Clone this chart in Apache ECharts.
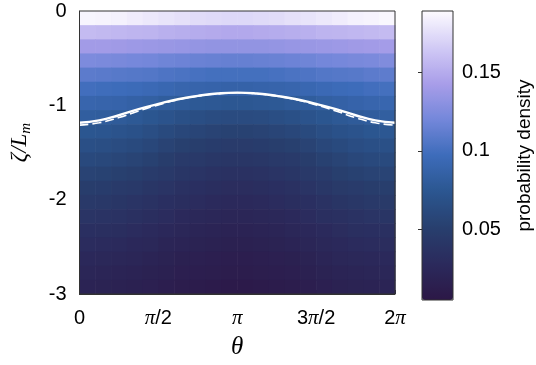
<!DOCTYPE html>
<html>
<head>
<meta charset="utf-8">
<script src="https://cdn.jsdelivr.net/npm/echarts@6/dist/echarts.min.js"></script>
<style>
  html, body { margin: 0; padding: 0; background: #fff; }
  #chart { width: 536px; height: 365px; }
</style>
</head>
<body>
<div id="chart"></div>
<script>
// probability density, rows from zeta = 0 (top) down to zeta = -3, 20 columns over theta in [0, 2pi]
const density = [
  [0.186, 0.185, 0.184, 0.182, 0.180, 0.178, 0.176, 0.174, 0.173, 0.172, 0.172, 0.173, 0.174, 0.176, 0.178, 0.180, 0.182, 0.184, 0.185, 0.187],
  [0.158, 0.157, 0.156, 0.155, 0.154, 0.152, 0.151, 0.150, 0.149, 0.148, 0.148, 0.149, 0.150, 0.151, 0.152, 0.154, 0.155, 0.156, 0.157, 0.158],
  [0.140, 0.140, 0.139, 0.138, 0.137, 0.136, 0.135, 0.134, 0.133, 0.133, 0.133, 0.133, 0.134, 0.135, 0.136, 0.137, 0.138, 0.139, 0.140, 0.141],
  [0.124, 0.123, 0.122, 0.121, 0.120, 0.118, 0.117, 0.116, 0.115, 0.114, 0.114, 0.115, 0.116, 0.117, 0.118, 0.120, 0.121, 0.122, 0.123, 0.125],
  [0.110, 0.109, 0.108, 0.107, 0.106, 0.104, 0.103, 0.101, 0.100, 0.100, 0.100, 0.100, 0.101, 0.103, 0.104, 0.106, 0.107, 0.108, 0.110, 0.111],
  [0.099, 0.098, 0.097, 0.096, 0.094, 0.092, 0.090, 0.089, 0.088, 0.087, 0.087, 0.088, 0.089, 0.090, 0.092, 0.094, 0.096, 0.097, 0.099, 0.100],
  [0.090, 0.089, 0.088, 0.086, 0.084, 0.081, 0.079, 0.077, 0.076, 0.075, 0.075, 0.076, 0.077, 0.079, 0.081, 0.084, 0.086, 0.088, 0.090, 0.091],
  [0.082, 0.081, 0.079, 0.077, 0.074, 0.071, 0.068, 0.066, 0.064, 0.063, 0.063, 0.064, 0.066, 0.068, 0.071, 0.074, 0.077, 0.079, 0.081, 0.083],
  [0.074, 0.073, 0.071, 0.069, 0.066, 0.062, 0.059, 0.057, 0.055, 0.054, 0.054, 0.055, 0.057, 0.059, 0.062, 0.066, 0.069, 0.071, 0.074, 0.075],
  [0.067, 0.066, 0.064, 0.062, 0.059, 0.055, 0.052, 0.050, 0.048, 0.047, 0.047, 0.048, 0.050, 0.052, 0.055, 0.059, 0.062, 0.065, 0.067, 0.068],
  [0.061, 0.060, 0.058, 0.056, 0.053, 0.049, 0.046, 0.044, 0.042, 0.041, 0.041, 0.042, 0.044, 0.046, 0.049, 0.053, 0.056, 0.059, 0.061, 0.062],
  [0.055, 0.054, 0.052, 0.050, 0.047, 0.044, 0.041, 0.039, 0.037, 0.036, 0.036, 0.037, 0.039, 0.041, 0.044, 0.047, 0.051, 0.053, 0.055, 0.056],
  [0.049, 0.048, 0.046, 0.044, 0.041, 0.039, 0.036, 0.034, 0.032, 0.031, 0.031, 0.032, 0.034, 0.036, 0.039, 0.042, 0.045, 0.047, 0.049, 0.050],
  [0.044, 0.043, 0.041, 0.039, 0.037, 0.034, 0.032, 0.030, 0.028, 0.027, 0.027, 0.028, 0.030, 0.032, 0.034, 0.037, 0.040, 0.042, 0.044, 0.045],
  [0.039, 0.038, 0.037, 0.035, 0.032, 0.030, 0.027, 0.025, 0.024, 0.023, 0.023, 0.024, 0.025, 0.027, 0.030, 0.033, 0.035, 0.037, 0.039, 0.040],
  [0.034, 0.033, 0.032, 0.030, 0.028, 0.026, 0.024, 0.022, 0.021, 0.020, 0.020, 0.021, 0.022, 0.024, 0.026, 0.028, 0.031, 0.033, 0.034, 0.035],
  [0.030, 0.029, 0.028, 0.026, 0.025, 0.022, 0.021, 0.019, 0.018, 0.017, 0.017, 0.018, 0.019, 0.021, 0.023, 0.025, 0.027, 0.029, 0.030, 0.031],
  [0.026, 0.025, 0.024, 0.023, 0.021, 0.019, 0.017, 0.016, 0.015, 0.014, 0.014, 0.015, 0.016, 0.017, 0.019, 0.022, 0.024, 0.025, 0.026, 0.027],
  [0.023, 0.022, 0.021, 0.020, 0.018, 0.017, 0.015, 0.014, 0.013, 0.012, 0.012, 0.013, 0.014, 0.015, 0.017, 0.019, 0.021, 0.022, 0.023, 0.024],
  [0.020, 0.019, 0.018, 0.017, 0.016, 0.014, 0.012, 0.011, 0.010, 0.009, 0.009, 0.010, 0.011, 0.012, 0.014, 0.016, 0.018, 0.019, 0.020, 0.021]
];

// theta samples for the two curves (0 .. 2pi in steps of pi/8)
const curveTheta = [0, 0.393, 0.785, 1.178, 1.571, 1.963, 2.356, 2.749, 3.142, 3.534, 3.927, 4.320, 4.712, 5.105, 5.498, 5.890, 6.283];
const solidZeta  = [-1.185, -1.16, -1.105, -1.04, -0.985, -0.935, -0.9, -0.875, -0.865, -0.875, -0.9, -0.935, -0.985, -1.04, -1.105, -1.16, -1.185];
const dashedZeta = [-1.21, -1.185, -1.13, -1.06, -0.995, -0.94, -0.903, -0.877, -0.866, -0.877, -0.903, -0.94, -0.995, -1.06, -1.13, -1.185, -1.21];

const xTickLabels = ['0', '{p|π}/2', '{p|π}', '3{p|π}/2', '2{p|π}'];
const cbTicks = [0.05, 0.1, 0.15];
const cbMin = 0.005, cbMax = 0.189;
const cmap = ['#2c1746', '#2b2a5c', '#283f6e', '#2b5690', '#3d6cba', '#7487da', '#a99ee9', '#d2cbf5', '#fdfbff'];

const TWO_PI = 2 * Math.PI;
const nRow = density.length, nCol = density[0].length;
const dTheta = TWO_PI / nCol, dZeta = 3 / nRow;

const cells = [];
for (let r = 0; r < nRow; r++) {
  for (let c = 0; c < nCol; c++) {
    cells.push([(c + 0.5) * dTheta, -(r + 0.5) * dZeta, density[r][c]]);
  }
}

const sans = 'Liberation Sans, Arial, Helvetica, sans-serif';
const serif = 'Liberation Serif, Times New Roman, serif';

const chart = echarts.init(document.getElementById('chart'));
chart.setOption({
  animation: false,
  grid: [
    { left: 69, top: 11, width: 326, height: 289, show: true, borderColor: '#333', borderWidth: 1, z: 10, backgroundColor: 'transparent' },
    { left: 422, top: 11, width: 31, height: 289, show: true, borderColor: '#333', borderWidth: 1, z: 10, backgroundColor: 'transparent' }
  ],
  xAxis: [
    {
      gridIndex: 0, type: 'value', min: 0, max: TWO_PI, interval: Math.PI / 2,
      splitLine: { show: false },
      axisLine: { show: true, onZero: false, lineStyle: { color: '#333' } },
      axisTick: { show: true, inside: true, length: 4, lineStyle: { color: '#333' } },
      axisLabel: {
        margin: 14, color: '#000', fontFamily: sans, fontSize: 20,
        formatter: v => xTickLabels[Math.round(v / (Math.PI / 2))],
        rich: { p: { fontFamily: serif, fontStyle: 'italic', fontSize: 21, color: '#000' } }
      },
      name: 'θ', nameLocation: 'middle', nameGap: 41,
      nameTextStyle: { fontFamily: serif, fontStyle: 'italic', fontSize: 25, color: '#000' }
    },
    { gridIndex: 1, type: 'value', min: 0, max: 1, show: false }
  ],
  yAxis: [
    {
      gridIndex: 0, type: 'value', min: -3, max: 0, interval: 1,
      splitLine: { show: false },
      axisLine: { show: true, onZero: false, lineStyle: { color: '#333' } },
      axisTick: { show: true, inside: true, length: 4, lineStyle: { color: '#333' } },
      axisLabel: { margin: 13, color: '#000', fontFamily: sans, fontSize: 20 },
      name: '{i|ζ/L}{s|m}', nameLocation: 'middle', nameGap: 46, nameRotate: 90,
      nameTextStyle: {
        padding: [0, 0, 0, 20],
        rich: {
          i: { fontFamily: serif, fontStyle: 'italic', fontSize: 23, lineHeight: 28, color: '#000' },
          s: { fontFamily: serif, fontStyle: 'italic', fontSize: 15, lineHeight: 14, verticalAlign: 'bottom', color: '#000' }
        }
      }
    },
    {
      gridIndex: 1, type: 'value', min: cbMin, max: cbMax, position: 'right',
      splitLine: { show: false },
      axisLine: { show: false },
      axisTick: { show: true, inside: true, length: 4, customValues: cbTicks, lineStyle: { color: '#333' } },
      axisLabel: { margin: 9, color: '#000', fontFamily: sans, fontSize: 20, customValues: cbTicks, formatter: v => String(v) },
      name: 'probability density', nameLocation: 'middle', nameGap: 62, nameRotate: 90,
      nameTextStyle: { fontFamily: sans, fontSize: 19, color: '#000' }
    }
  ],
  visualMap: {
    type: 'continuous', min: cbMin, max: cbMax, dimension: 2, seriesIndex: 0,
    calculable: false, realtime: false, text: null, showLabel: false,
    left: 422, top: 11, itemWidth: 31, itemHeight: 289, padding: 0,
    inRange: { color: cmap }
  },
  series: [
    {
      type: 'custom', xAxisIndex: 0, yAxisIndex: 0, data: cells, clip: true,
      renderItem: (params, api) => {
        const p = api.coord([api.value(0) - dTheta / 2, api.value(1) + dZeta / 2]);
        const s = api.size([dTheta, dZeta]);
        return {
          type: 'rect',
          shape: { x: p[0], y: p[1], width: s[0] + 0.6, height: s[1] + 0.6 },
          style: { fill: api.visual('color') }
        };
      }
    },
    {
      type: 'line', xAxisIndex: 0, yAxisIndex: 0, smooth: true, symbol: 'none',
      data: curveTheta.map((t, i) => [t, dashedZeta[i]]),
      lineStyle: { color: '#fff', width: 1.6, type: [9, 4] }, z: 5
    },
    {
      type: 'line', xAxisIndex: 0, yAxisIndex: 0, smooth: true, symbol: 'none',
      data: curveTheta.map((t, i) => [t, solidZeta[i]]),
      lineStyle: { color: '#fff', width: 2.4 }, z: 6
    }
  ]
});
</script>
</body>
</html>
